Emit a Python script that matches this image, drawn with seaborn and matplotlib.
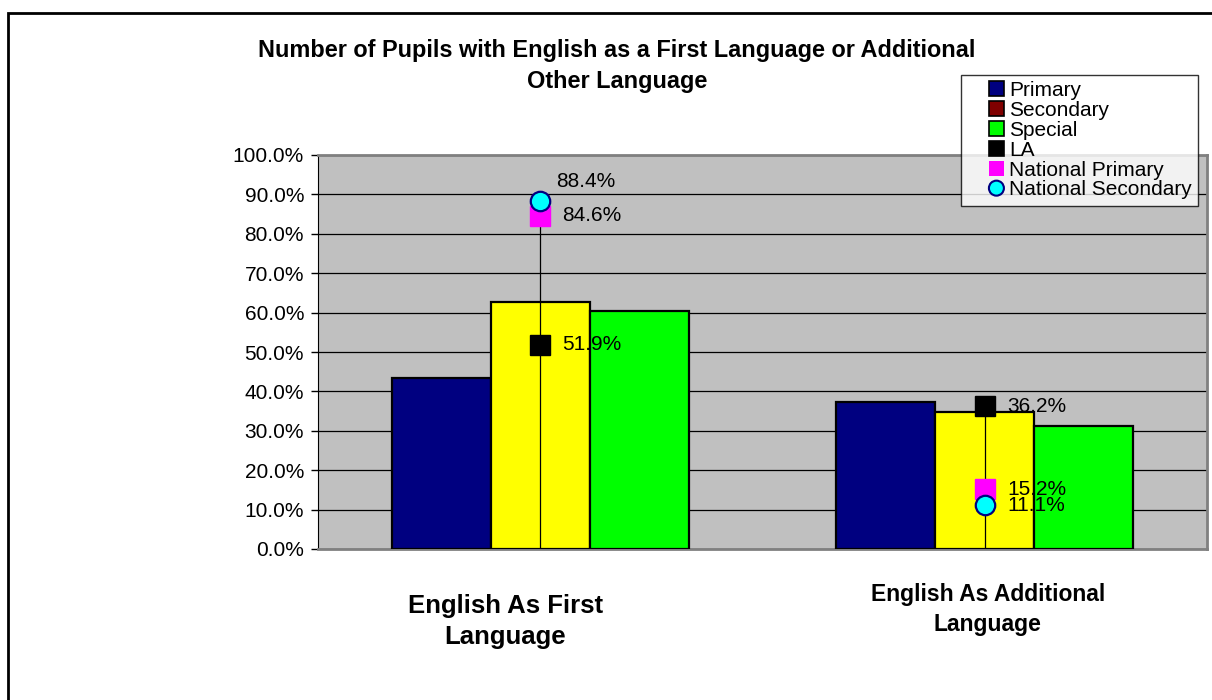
"""Pupils with English as a first or additional language: bars plus national markers."""

import numpy as np
import pandas as pd
import matplotlib.pyplot as plt
import seaborn as sns
from matplotlib.patches import Patch, Rectangle, Ellipse
from matplotlib.legend_handler import HandlerPatch
from matplotlib.ticker import PercentFormatter
from matplotlib.transforms import blended_transform_factory, offset_copy

# ---- data ------------------------------------------------------------------
categories = ["English As First\nLanguage", "English As Additional\nLanguage"]
bar_series = ["Primary", "Secondary", "Special"]
primary = [43.5, 37.3]
secondary = [62.7, 34.7]
special = [60.3, 31.2]
la = [51.9, 36.2]
national_primary = [84.6, 15.2]
national_secondary = [88.4, 11.1]
y_ticks = list(range(0, 101, 10))

bar_colors = ["#000080", "#FFFF00", "#00FF00"]
legend_colors = ["#000080", "#800000", "#00FF00"]

df = pd.DataFrame(
    {
        "category": np.repeat(categories, len(bar_series)),
        "series": bar_series * len(categories),
        "value": [v for trio in zip(primary, secondary, special) for v in trio],
    }
)

plt.rcParams["font.family"] = ["Liberation Sans", "DejaVu Sans"]

fig = plt.figure(figsize=(12.12, 7.0), dpi=100)
fig.patch.set_facecolor("white")
ax = fig.add_axes([318 / 1212, 1 - 549 / 700, (1207 - 318) / 1212, (549 - 155) / 700])
ax.set_facecolor("#C0C0C0")

sns.barplot(
    data=df,
    x="category",
    y="value",
    hue="series",
    hue_order=bar_series,
    palette=bar_colors,
    saturation=1,
    width=0.668,
    gap=0,
    edgecolor="black",
    linewidth=1.6,
    legend=False,
    ax=ax,
    zorder=3,
)

# drop lines from the top marker down to the axis
x_pos = np.arange(len(categories))
tops = np.max([la, national_primary, national_secondary], axis=0)
ax.vlines(x_pos, 0, tops, color="black", lw=0.9, zorder=4)

ax.plot(x_pos, national_primary, ls="none", marker="s", ms=14.5,
        mfc="#FF00FF", mec="#FF00FF", zorder=5)
ax.plot(x_pos, national_secondary, ls="none", marker="o", ms=14,
        mfc="#00FFFF", mec="#000080", mew=1.6, zorder=6)
ax.plot(x_pos, la, ls="none", marker="s", ms=14.5,
        mfc="black", mec="black", zorder=5)

# value labels (the 88.4% one sits raised in the original)
for series in (la, national_primary, national_secondary):
    for x, v in zip(x_pos, series):
        raised = v == national_secondary[0]
        ax.annotate(f"{v:.1f}%", (x, v),
                    xytext=(11.5 if raised else 16, 14 if raised else 0),
                    textcoords="offset points",
                    ha="left", va="center", fontsize=15, zorder=7)

ax.set_ylim(0, 100)
ax.set_xlim(-0.5, 1.5)
ax.set_yticks(y_ticks)
ax.yaxis.set_major_formatter(PercentFormatter(decimals=1))
ax.tick_params(axis="y", labelsize=15, length=5, width=1, pad=5)
ax.tick_params(axis="x", length=0, labelbottom=False)
ax.grid(axis="y", color="black", lw=0.9, zorder=1)
ax.set_axisbelow(True)
ax.set_xlabel("")
ax.set_ylabel("")
ax.set_xticks(x_pos)

# category labels, sized and placed like the original
base = blended_transform_factory(ax.transData, ax.transAxes)
ax.text(0, 0, categories[0], ha="center", va="top", fontsize=18.5,
        fontweight="bold", linespacing=1.38,
        transform=offset_copy(base, fig=fig, x=-35, y=-45, units="dots"))
ax.text(1, 0, categories[1], ha="center", va="top", fontsize=16.5,
        fontweight="bold", linespacing=1.38,
        transform=offset_copy(base, fig=fig, x=3, y=-34, units="dots"))

for side in ("top", "right"):
    ax.spines[side].set_color("#808080")
    ax.spines[side].set_linewidth(2)
ax.spines["left"].set_color("black")
ax.spines["bottom"].set_color("#808080")
ax.spines["bottom"].set_linewidth(2)

fig.text(617 / 1212, 1 - 66 / 700,
         "Number of Pupils with English as a First Language or Additional\nOther Language",
         ha="center", va="center", fontsize=16.9, fontweight="bold", linespacing=1.45)


# legend keys sit at the right end of a wide handle box, as in the original
def right_square(legend, orig_handle, xdescent, ydescent, width, height, fontsize):
    s = 10.8
    return Rectangle((width - xdescent - s, -ydescent + (height - s) / 2), s, s)


def right_circle(legend, orig_handle, xdescent, ydescent, width, height, fontsize):
    s = 10.8
    return Ellipse((width - xdescent - s / 2, -ydescent + height / 2), s, s)


handles = [Patch(facecolor=c, edgecolor="black", lw=1.2) for c in legend_colors]
handles += [
    Patch(facecolor="black", edgecolor="black", lw=1.2),
    Patch(facecolor="#FF00FF", edgecolor="#FF00FF", lw=0),
    Patch(facecolor="#00FFFF", edgecolor="#000080", lw=1.5),
]
handler_map = {h: HandlerPatch(patch_func=right_square) for h in handles[:5]}
handler_map[handles[5]] = HandlerPatch(patch_func=right_circle)
labels = bar_series + ["LA", "National Primary", "National Secondary"]
leg = fig.legend(
    handles, labels, handler_map=handler_map,
    loc="upper left", bbox_to_anchor=(961 / 1212, 1 - 75 / 700),
    fontsize=15, frameon=True, fancybox=False, borderaxespad=0, labelspacing=0.04,
    handlelength=1.76, handleheight=0.75, handletextpad=0.25, borderpad=0.3,
)
leg.get_frame().set_edgecolor("black")
leg.get_frame().set_linewidth(1)
leg.set_zorder(10)

# outer chart-area border
fig.patches.append(Rectangle((8 / 1212, -0.05), 1.1, 1 - 13 / 700 + 0.05,
                             transform=fig.transFigure, fill=False,
                             edgecolor="black", lw=2, zorder=0))

fig.savefig("out.png", dpi=100)
